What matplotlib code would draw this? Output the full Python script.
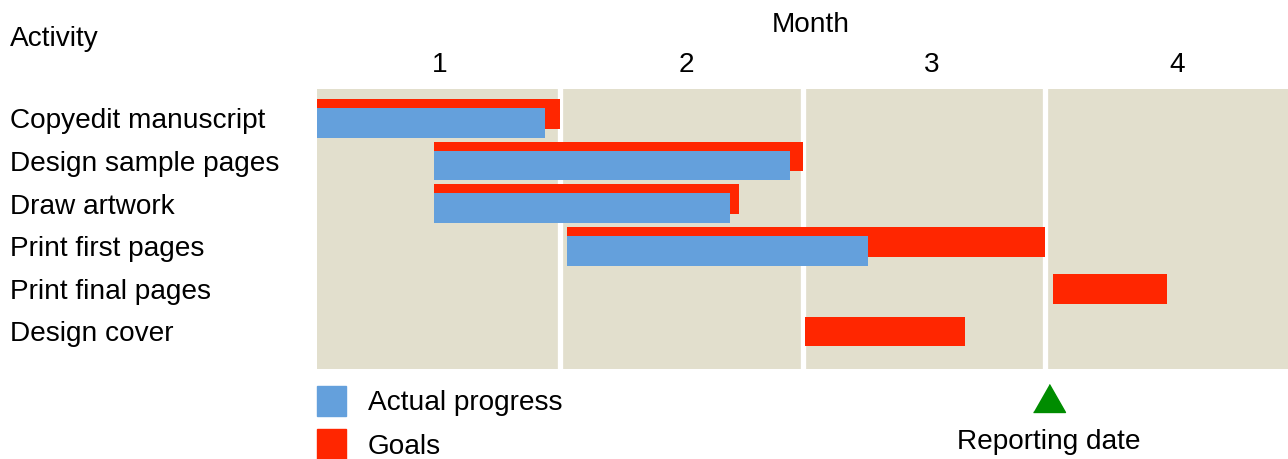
import matplotlib.pyplot as plt
import matplotlib.transforms as mtransforms
from matplotlib.patches import Patch

plt.rcParams['font.family'] = ['Liberation Sans', 'DejaVu Sans']

activities = ["Copyedit manuscript", "Design sample pages", "Draw artwork",
              "Print first pages", "Print final pages", "Design cover"]
months = ["1", "2", "3", "4"]
# in months from the start of the schedule
goal_start = [0.0, 0.48, 0.48, 1.03, 3.03, 2.01]
goal_end = [1.0, 2.0, 1.74, 3.0, 3.5, 2.67]
actual_start = [0.0, 0.48, 0.48, 1.03]
actual_end = [0.94, 1.95, 1.70, 2.27]
report_date = 3.0

bg = "#E2DFCD"
blue = "#64A0DC"
red = "#FF2600"
green = "#008C00"
fs = 20.2

fig = plt.figure(figsize=(12.88, 4.59), dpi=100)
ax = fig.add_axes([317/1288, 90/459, 971/1288, 280/459])
ax.set_facecolor(bg)
for s in ax.spines.values():
    s.set_visible(False)

for m in range(1, len(months)):
    ax.axvline(m, color="white", lw=3.8, zorder=1)

h = 0.70
off = 0.105
n_act = len(actual_start)
for i in range(len(activities)):
    dy = -off if i < n_act else 0
    ax.barh(i + dy, goal_end[i] - goal_start[i], left=goal_start[i],
            height=h, color=red, zorder=2)
for i in range(n_act):
    ax.barh(i + off, actual_end[i] - actual_start[i], left=actual_start[i],
            height=h, color=blue, zorder=3)

ax.set_xlim(0, len(months))
ax.set_ylim(5.88, -0.69)

ax.xaxis.tick_top()
ax.set_xticks([0.507, 1.52, 2.533, 3.543])
ax.set_xticklabels(months, fontsize=fs)
ax.tick_params(axis="x", length=0, pad=8)
ax.set_yticks([])

trans = mtransforms.blended_transform_factory(fig.transFigure, ax.transData)
for i, a in enumerate(activities):
    ax.text(10/1288, i + 0.07, a, transform=trans, ha="left", va="center",
            fontsize=fs)

fig.text(10/1288, 1 - 39/459, "Activity", ha="left", va="center", fontsize=fs)
fig.text(811/1288, 1 - 25/459, "Month", ha="center", va="center", fontsize=fs)

# reporting date marker
ax.plot(report_date + 0.015, 6.57, marker=[(-16, -14), (16, -14), (0, 14)],
        ms=23, color=green, clip_on=False, zorder=4)
ax.text(report_date + 0.015, 7.6, "Reporting date", ha="center", va="center",
        fontsize=fs, clip_on=False)

handles = [Patch(color=blue, label="Actual progress"),
           Patch(color=red, label="Goals")]
fig.legend(handles=handles, loc="upper left",
           bbox_to_anchor=(317/1288, 1 - 386/459), frameon=False,
           fontsize=fs, handlelength=1.05, handleheight=1.25,
           handletextpad=0.75, labelspacing=0.47, borderpad=0,
           borderaxespad=0)

fig.savefig("out.png", dpi=100)
